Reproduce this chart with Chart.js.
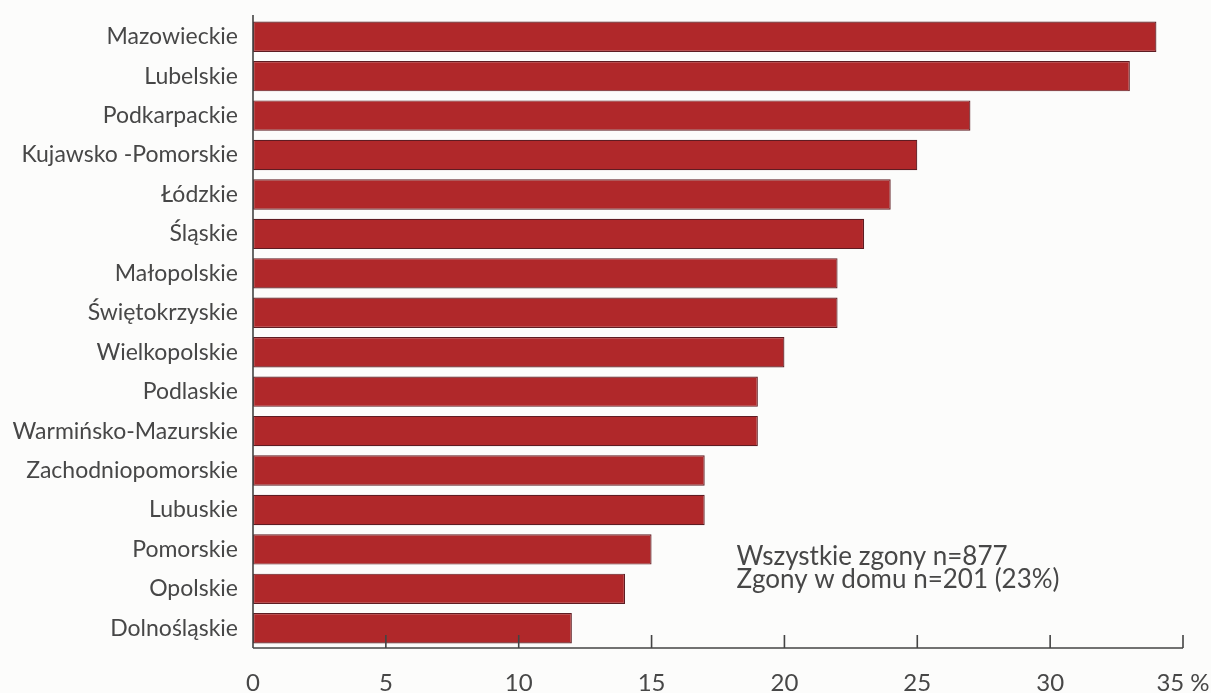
<!DOCTYPE html>
<html>
<head>
<meta charset="utf-8">
<script src="https://cdn.jsdelivr.net/npm/chart.js@4.4.0/dist/chart.umd.min.js"></script>
<style>
  html, body { margin: 0; padding: 0; background: #fcfcfb; }
  #wrap { width: 1211px; height: 693px; }
</style>
</head>
<body>
<div id="wrap"><canvas id="chart" width="1211" height="693"></canvas></div>
<script>
// dane
const regiony = [
  "Mazowieckie", "Lubelskie", "Podkarpackie", "Kujawsko -Pomorskie", "Łódzkie",
  "Śląskie", "Małopolskie", "Świętokrzyskie", "Wielkopolskie", "Podlaskie",
  "Warmińsko-Mazurskie", "Zachodniopomorskie", "Lubuskie", "Pomorskie",
  "Opolskie", "Dolnośląskie"
];
const zgonyWDomu = [34, 33, 27, 25, 24, 23, 22, 22, 20, 19, 19, 17, 17, 15, 14, 12];
const osX = [0, 5, 10, 15, 20, 25, 30, 35];
const adnotacja = ["Wszystkie zgony n=877", "Zgony w domu n=201 (23%)"];

const FONT = "Lato, 'Open Sans', sans-serif";
const SZARY = "#474747";

// kreski osi X skierowane do góry + tekst z liczebnościami
const rysujDodatki = {
  id: "dodatki",
  afterDatasetsDraw(chart) {
    const { ctx, chartArea, scales } = chart;
    ctx.save();
    ctx.strokeStyle = "#444";
    ctx.lineWidth = 1.6;
    ctx.beginPath();
    ctx.moveTo(chartArea.left, chartArea.bottom);
    ctx.lineTo(chartArea.right, chartArea.bottom);
    ctx.moveTo(chartArea.left, chartArea.top - 2);
    ctx.lineTo(chartArea.left, chartArea.bottom);
    osX.forEach(v => {
      if (v === 0) return;
      const x = scales.x.getPixelForValue(v);
      ctx.moveTo(x, chartArea.bottom);
      ctx.lineTo(x, chartArea.bottom - 13);
    });
    ctx.stroke();

    ctx.fillStyle = SZARY;
    ctx.font = "26px " + FONT;
    ctx.textBaseline = "middle";
    const x0 = scales.x.getPixelForValue(18.2);
    ctx.fillText(adnotacja[0], x0, scales.y.getPixelForValue(13.17));
    ctx.fillText(adnotacja[1], x0, scales.y.getPixelForValue(13.77));
    ctx.restore();
  }
};

new Chart(document.getElementById("chart"), {
  type: "bar",
  data: {
    labels: regiony,
    datasets: [{
      data: zgonyWDomu,
      backgroundColor: "#b0282a",
      borderColor: "#5e1c22",
      borderWidth: 1.2,
      borderSkipped: false,
      barPercentage: 0.77,
      categoryPercentage: 1
    }]
  },
  options: {
    indexAxis: "y",
    responsive: false,
    animation: false,
    layout: { padding: { top: 17, right: 28, bottom: 0, left: 0 } },
    plugins: { legend: { display: false }, tooltip: { enabled: false } },
    scales: {
      x: {
        min: 0,
        max: 35,
        afterBuildTicks: s => { s.ticks = osX.map(v => ({ value: v })); },
        afterFit: s => { s.height = 45; s.paddingLeft = 0; s.paddingRight = 0; },
        grid: { display: false },
        border: { display: false },
        ticks: {
          color: SZARY,
          font: { family: FONT, size: 24 },
          padding: 13,
          maxRotation: 0,
          callback: v => v === 35 ? "35 %" : String(v)
        }
      },
      y: {
        afterFit: s => { s.width = 253; s.paddingTop = 0; s.paddingBottom = 0; },
        grid: { display: false },
        border: { display: false },
        ticks: {
          color: SZARY,
          font: { family: FONT, size: 23 },
          padding: 7
        }
      }
    }
  },
  plugins: [rysujDodatki]
});
</script>
</body>
</html>
